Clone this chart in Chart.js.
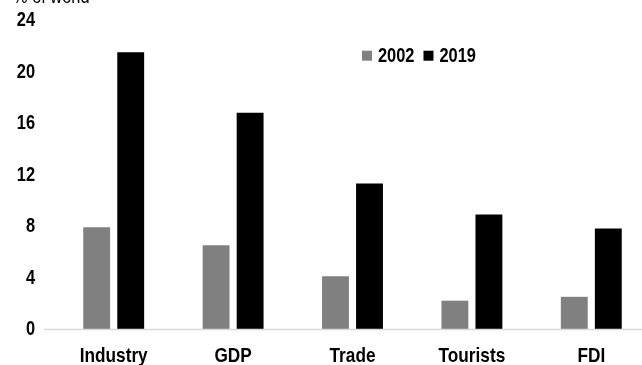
<!DOCTYPE html>
<html>
<head>
<meta charset="utf-8">
<script src="https://cdn.jsdelivr.net/npm/chart.js@4.4.1/dist/chart.umd.min.js"></script>
<style>
  html, body { margin: 0; padding: 0; background: #fff; overflow: hidden; }
  #wrap { position: relative; width: 651px; height: 365px; }
</style>
</head>
<body>
<div id="wrap"><canvas id="c" width="651" height="365"></canvas></div>
<script>
const categories = ['Industry', 'GDP', 'Trade', 'Tourists', 'FDI'];
const share2002 = [7.9, 6.5, 4.1, 2.2, 2.5];
const share2019 = [21.5, 16.8, 11.3, 8.9, 7.8];
const yTicks = [0, 4, 8, 12, 16, 20, 24];
const unitLabel = '% of world';

const FONT = "'Liberation Sans', Arial, sans-serif";
const NARROW = 0.82; // horizontal squeeze for a narrow typeface look

// draw text squeezed horizontally around its anchor point
function narrowText(ctx, text, x, y, align) {
  ctx.save();
  ctx.translate(x, y);
  ctx.scale(NARROW, 1);
  ctx.textAlign = align;
  ctx.fillText(text, 0, 0);
  ctx.restore();
}

// Axis labels, unit note, baseline and in-plot legend
const decorations = {
  id: 'decorations',
  afterDraw(chart) {
    const ctx = chart.ctx;
    const xs = chart.scales.x;
    const ys = chart.scales.y;
    const y0 = ys.getPixelForValue(0);
    ctx.save();

    // baseline across the plot
    ctx.strokeStyle = '#d9d9d9';
    ctx.lineWidth = 1.5;
    ctx.beginPath();
    ctx.moveTo(44, y0 + 0.5);
    ctx.lineTo(chart.width, y0 + 0.5);
    ctx.stroke();

    ctx.fillStyle = '#000';

    // y tick labels
    ctx.font = "bold 20px " + FONT;
    ctx.textBaseline = 'middle';
    ys.ticks.forEach((t, i) => {
      narrowText(ctx, String(t.value), 35, ys.getPixelForTick(i) + 0.5, 'right');
    });

    // category labels
    ctx.font = "bold 21px " + FONT;
    ctx.textBaseline = 'alphabetic';
    chart.data.labels.forEach((lab, i) => {
      narrowText(ctx, lab, xs.getPixelForTick(i), 361.5, 'center');
    });

    // unit note at the top left
    ctx.font = "20px " + FONT;
    narrowText(ctx, unitLabel, 13, 3, 'left');

    // legend
    ctx.font = "bold 20px " + FONT;
    ctx.textBaseline = 'alphabetic';
    let x = 362;
    chart.data.datasets.forEach(ds => {
      ctx.fillStyle = ds.backgroundColor;
      ctx.fillRect(x, 50.7, 10, 10);
      x += 16;
      ctx.fillStyle = '#000';
      narrowText(ctx, ds.label, x, 61.5, 'left');
      x += ctx.measureText(ds.label).width * NARROW + 9;
    });
    ctx.restore();
  }
};

new Chart(document.getElementById('c'), {
  type: 'bar',
  data: {
    labels: categories,
    datasets: [
      { label: '2002', data: share2002, backgroundColor: '#808080', borderWidth: 0 },
      { label: '2019', data: share2019, backgroundColor: '#000000', borderWidth: 0 }
    ]
  },
  options: {
    responsive: false,
    animation: false,
    devicePixelRatio: 1,
    layout: { padding: { top: 20, right: 0, left: 0, bottom: 0 } },
    datasets: { bar: { categoryPercentage: 0.57, barPercentage: 0.79 } },
    plugins: { legend: { display: false }, tooltip: { enabled: false } },
    scales: {
      x: {
        grid: { display: false, drawTicks: false },
        border: { display: false },
        ticks: { color: 'rgba(0,0,0,0)', padding: 12, font: { family: FONT, size: 19, weight: 'bold' } },
        afterFit(scale) {
          scale.height = 36;
          scale.paddingLeft = 0;
          scale.paddingRight = 0;
        }
      },
      y: {
        min: 0,
        max: 24,
        afterBuildTicks(scale) { scale.ticks = yTicks.map(v => ({ value: v })); },
        grid: { display: false, drawTicks: false },
        border: { display: false },
        ticks: { color: 'rgba(0,0,0,0)', padding: 19, font: { family: FONT, size: 20, weight: 'bold' } },
        afterFit(scale) {
          scale.width = 54;
          scale.paddingTop = 0;
          scale.paddingBottom = 0;
        }
      }
    }
  },
  plugins: [decorations]
});
</script>
</body>
</html>
